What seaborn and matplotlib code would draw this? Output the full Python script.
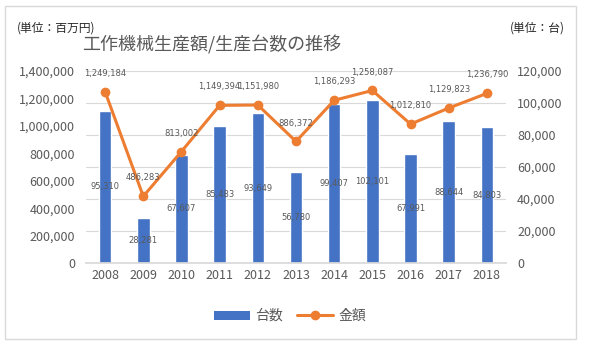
import matplotlib
matplotlib.use("Agg")
import matplotlib.pyplot as plt
import seaborn as sns
import pandas as pd
from matplotlib.patches import Rectangle, Patch
from matplotlib.lines import Line2D

years = ["2008", "2009", "2010", "2011", "2012", "2013", "2014", "2015", "2016", "2017", "2018"]
units = [95310, 28281, 67607, 85483, 93649, 56780, 99407, 102101, 67991, 88644, 84803]
amounts = [1249184, 486283, 813002, 1149394, 1151980, 886372, 1186293, 1258087, 1012810, 1129823, 1236790]

sns.set_theme(style="white")
plt.rcParams['font.family'] = ['Noto Sans CJK JP', 'DejaVu Sans']

BAR = "#4472C4"
LINE = "#ED7D31"
TXT = "#595959"

df = pd.DataFrame({"year": years, "台数": units, "金額": amounts})
df["pos"] = range(len(years))

fig = plt.figure(figsize=(5.89, 3.5), dpi=100)
fig.patches.append(Rectangle((5/589, 1 - 339/350), 571/589, 333/350, transform=fig.transFigure,
                             fill=False, edgecolor="#D9D9D9", linewidth=1.0))

ax = fig.add_axes([86/589, 87/350, 420/589, 192/350])
sns.barplot(data=df, x="year", y="台数", color=BAR, width=0.33, ax=ax, saturation=1, zorder=2)
ax2 = ax.twinx()

ax.set_ylim(0, 120000)
ax.set_xlim(-0.5, 10.5)
ax.set_yticks(range(0, 120001, 20000))
ax.set_yticklabels([f"{v:,}" for v in range(0, 120001, 20000)])
ax.grid(axis="y", color="#D9D9D9", linewidth=0.8, zorder=0)
ax.set_axisbelow(True)
for s in ["left", "right", "top"]:
    ax.spines[s].set_visible(False)
ax.spines["bottom"].set_color("#D9D9D9")
ax.set_xlabel("")
ax.set_ylabel("")
ax.tick_params(axis="both", length=0, labelsize=9, colors=TXT, pad=4)
ax.tick_params(axis="y", pad=8)
for i, v in enumerate(units):
    ax.text(i, v / 2, f"{v:,}", ha="center", va="center", fontsize=6, color=TXT,
            family="DejaVu Sans")

sns.lineplot(data=df, x="pos", y="金額", color=LINE, linewidth=2.2, marker="o", markersize=7,
             markeredgewidth=0, ax=ax2)
ax2.set_ylim(0, 1400000)
ax2.set_xlim(-0.5, 10.5)
ax2.set_yticks(range(0, 1400001, 200000))
ax2.set_yticklabels([f"{v:,}" for v in range(0, 1400001, 200000)])
ax2.yaxis.tick_left()
for s in ["left", "right", "top", "bottom"]:
    ax2.spines[s].set_visible(False)
ax2.set_xlabel("")
ax2.set_ylabel("")
ax2.tick_params(axis="both", length=0, labelsize=9, colors=TXT)
ax2.tick_params(axis="y", pad=8)
ax.yaxis.tick_right()
for i, v in enumerate(amounts):
    ax2.annotate(f"{v:,}", (i, v), xytext=(0, 10), textcoords="offset points",
                 ha="center", va="bottom", fontsize=6, color=TXT, family="DejaVu Sans")

fig.text(212/589, 1 - 45/350, "工作機械生産額/生産台数の推移", ha="center", va="center",
         fontsize=13, color=TXT)
fig.text(17/589, 1 - 28/350, "(単位：百万円)", ha="left", va="center", fontsize=8.5, color="#262626")
fig.text(565/589, 1 - 28/350, "(単位：台)", ha="right", va="center", fontsize=8.5, color="#262626")

handles = [Patch(facecolor=BAR, edgecolor="none"),
           Line2D([0], [0], color=LINE, linewidth=2.2, marker="o", markersize=7, markeredgewidth=0)]
fig.legend(handles, ["台数", "金額"], loc="center", bbox_to_anchor=(290/589, 1 - 316/350),
           ncol=2, frameon=False, fontsize=10, labelcolor=TXT, handlelength=2.6,
           handleheight=0.6, columnspacing=1.0, handletextpad=0.4)

fig.savefig("out.png", dpi=100)
